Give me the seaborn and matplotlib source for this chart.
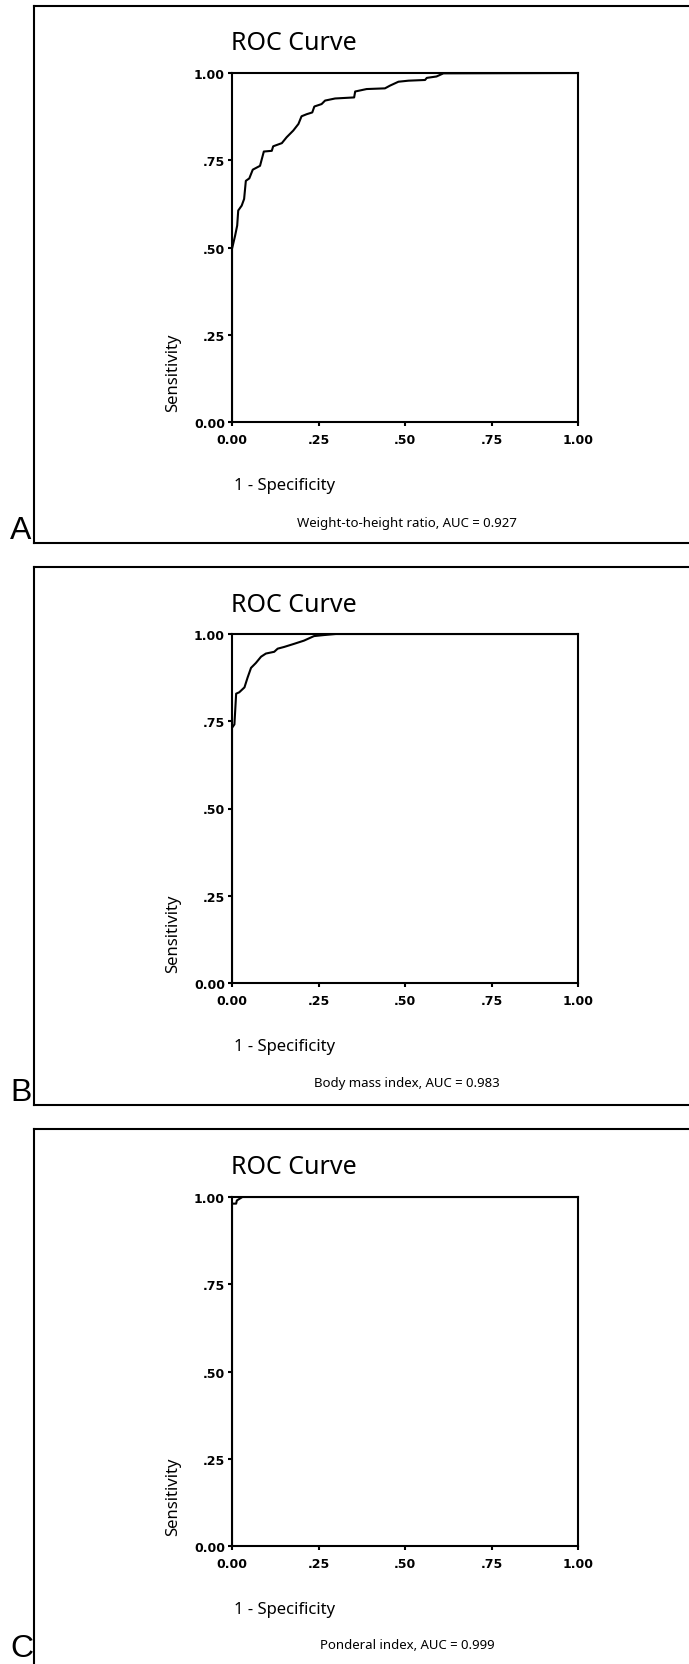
import numpy as np
import pandas as pd
import matplotlib
matplotlib.use("Agg")
import matplotlib.pyplot as plt
import seaborn as sns

# ROC points (1 - specificity, sensitivity)
fpr_a = [0.0, 0.0, 0.009, 0.015, 0.018, 0.028, 0.035, 0.040, 0.050, 0.060, 0.081, 0.092,
         0.115, 0.119, 0.144, 0.158, 0.177, 0.192, 0.201, 0.216, 0.232, 0.238, 0.259,
         0.269, 0.298, 0.353, 0.356, 0.389, 0.442, 0.457, 0.481, 0.510, 0.558, 0.563,
         0.591, 0.611, 1.0]
tpr_a = [0.0, 0.496, 0.534, 0.563, 0.606, 0.620, 0.639, 0.691, 0.698, 0.723, 0.734, 0.775,
         0.777, 0.790, 0.799, 0.816, 0.835, 0.854, 0.876, 0.882, 0.887, 0.904, 0.911,
         0.921, 0.927, 0.930, 0.947, 0.954, 0.956, 0.964, 0.975, 0.978, 0.980, 0.986,
         0.990, 0.999, 1.0]

fpr_b = [0.0, 0.0, 0.007, 0.012, 0.021, 0.036, 0.045, 0.055, 0.069, 0.084, 0.098, 0.122,
         0.132, 0.151, 0.180, 0.208, 0.237, 0.266, 0.30, 1.0]
tpr_b = [0.0, 0.731, 0.741, 0.829, 0.833, 0.847, 0.875, 0.903, 0.917, 0.935, 0.944, 0.949,
         0.958, 0.963, 0.972, 0.981, 0.994, 0.997, 1.0, 1.0]

fpr_c = [0.0, 0.0, 0.012, 0.014, 0.03, 1.0]
tpr_c = [0.0, 0.981, 0.981, 0.99, 1.0, 1.0]

captions = ["Weight-to-height ratio, AUC = 0.927",
            "Body mass index, AUC = 0.983",
            "Ponderal index, AUC = 0.999"]
letters = ["A", "B", "C"]
ticks = [0.0, 0.25, 0.5, 0.75, 1.0]
tick_labels = ["0.00", ".25", ".50", ".75", "1.00"]

sns.set_style("white")
plt.rcParams["font.family"] = ["Noto Sans", "DejaVu Sans"]
plt.rcParams["text.color"] = "black"
plt.rcParams["xtick.color"] = "black"
plt.rcParams["ytick.color"] = "black"

W, H = 689, 1665
fig = plt.figure(figsize=(W / 100, H / 100), dpi=100)
fig.patch.set_facecolor("white")


def rect(x0, y0, x1, y1):
    # pixel box (top-left origin) -> figure fraction
    return [x0 / W, 1 - y1 / H, (x1 - x0) / W, (y1 - y0) / H]


curves = [(fpr_a, tpr_a), (fpr_b, tpr_b), (fpr_c, tpr_c)]
frame_tops = [7, 568, 1130]
frame_bottoms = [544, 1106, None]
axes_tops = [74, 635, 1198]
letter_bottom = [546, 1108, 1664]
ax_h = 349

for i, (fx, ty) in enumerate(curves):
    ft = frame_tops[i]
    fb = frame_bottoms[i]
    # panel frame (left, top, bottom lines; cut at right edge)
    fr = fig.add_axes(rect(34, ft, W + 5, fb if fb is not None else H + 5))
    fr.set_facecolor("none")
    fr.set_xticks([])
    fr.set_yticks([])
    for s in fr.spines.values():
        s.set_linewidth(1.5)
        s.set_color("black")
    fr.spines["right"].set_visible(False)
    if fb is None:
        fr.spines["bottom"].set_visible(False)

    at = axes_tops[i]
    ab = at + ax_h
    ax = fig.add_axes(rect(232, at, 578, ab))
    df = pd.DataFrame({"fpr": fx, "tpr": ty})
    sns.lineplot(data=df, x="fpr", y="tpr", ax=ax, color="black", lw=1.5,
                 sort=False, estimator=None)
    ax.set_xlim(0, 1)
    ax.set_ylim(0, 1)
    ax.set_xticks(ticks)
    ax.set_yticks(ticks)
    ax.set_xticklabels(tick_labels, fontweight="bold", fontsize=9, family="DejaVu Sans")
    ax.set_yticklabels(tick_labels, fontweight="bold", fontsize=9, family="DejaVu Sans")
    ax.tick_params(axis="both", direction="out", length=3, width=1.5,
                   left=True, bottom=True)
    ax.tick_params(axis="x", pad=5)
    ax.tick_params(axis="y", pad=2)
    for s in ax.spines.values():
        s.set_linewidth(1.5)
        s.set_color("black")
    ax.set_xlabel("")
    ax.set_ylabel("")

    fig.text(231 / W, 1 - (at - 30) / H, "ROC Curve", fontsize=18,
             ha="left", va="center")
    fig.text(173 / W, 1 - (at + 299) / H, "Sensitivity", fontsize=12,
             rotation=90, ha="center", va="center")
    fig.text(234 / W, 1 - (ab + 63) / H, "1 - Specificity", fontsize=12,
             ha="left", va="center")
    fig.text(407 / W, 1 - (ft + 516) / H, captions[i], fontsize=9.5,
             ha="center", va="center")
    fig.text(10 / W, 1 - letter_bottom[i] / H, letters[i], fontsize=23,
             family="Liberation Sans", ha="left", va="bottom")

fig.savefig("out.png", dpi=100)
